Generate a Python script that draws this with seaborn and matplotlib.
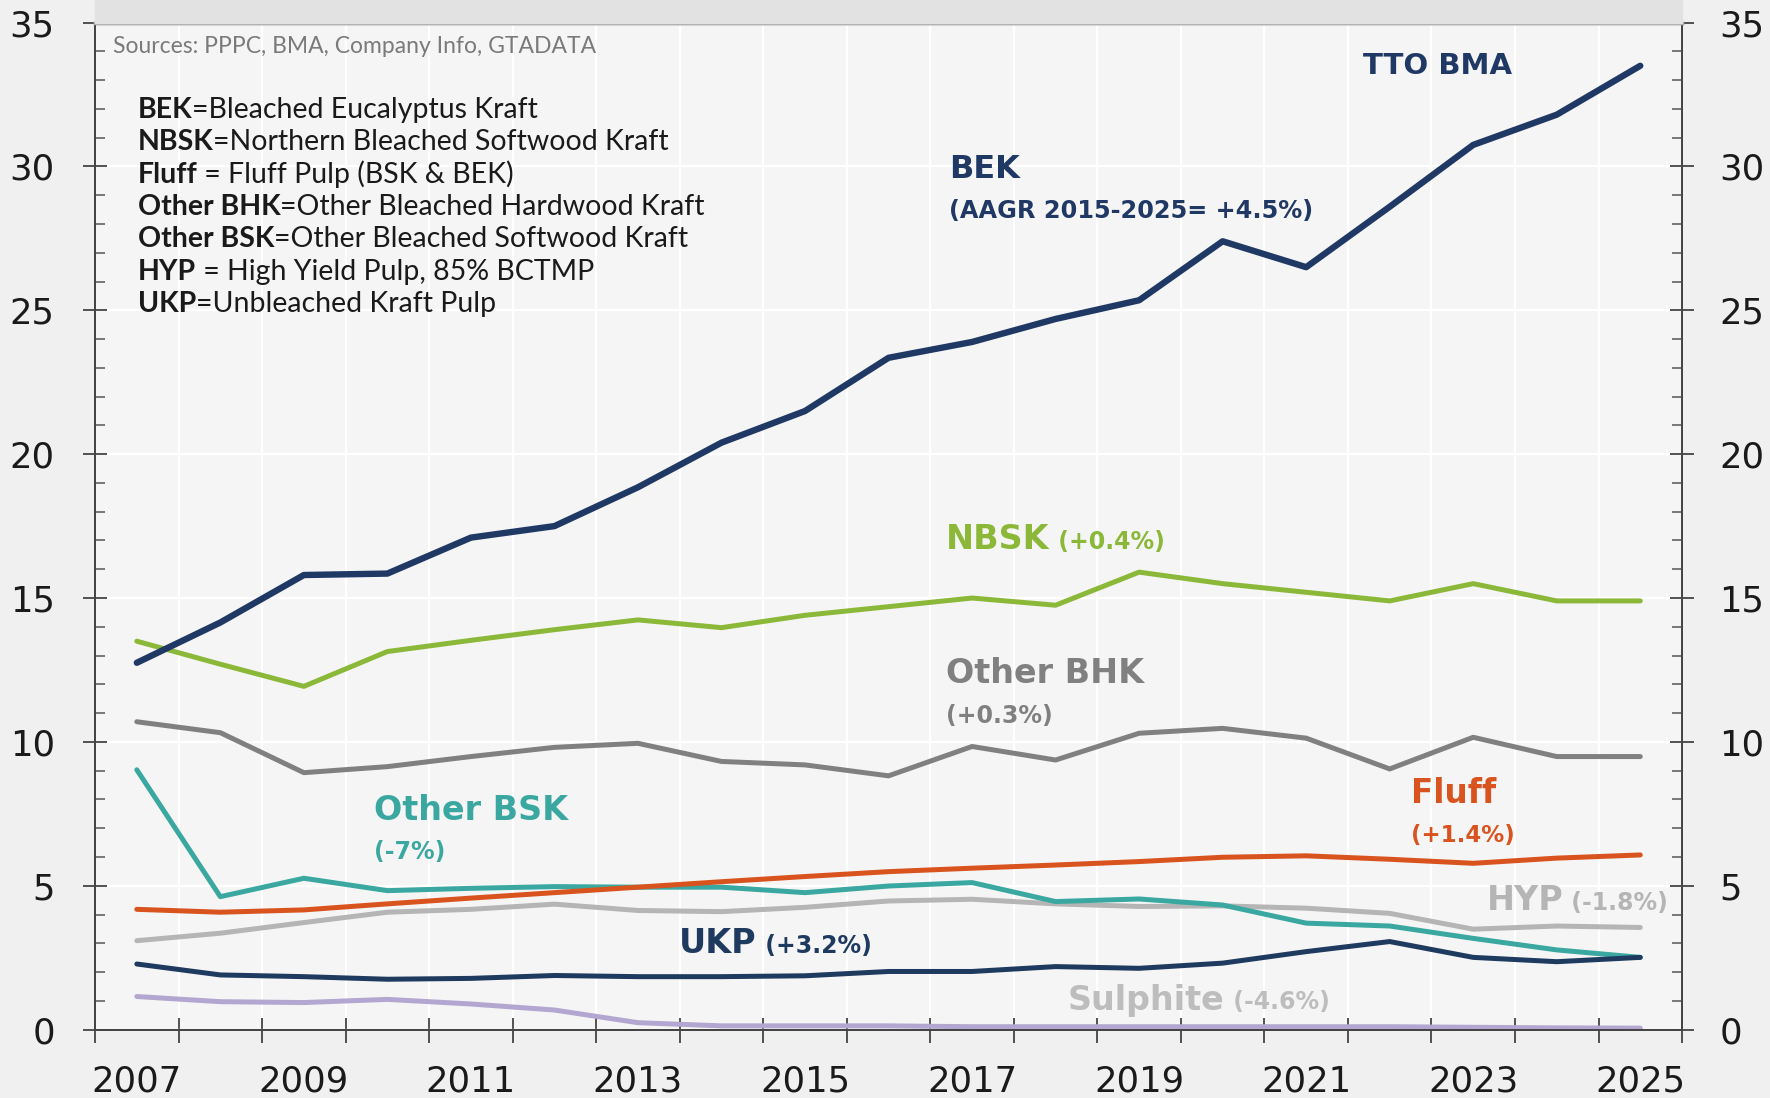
import numpy as np
import pandas as pd
import seaborn as sns
import matplotlib.pyplot as plt
from matplotlib.ticker import MultipleLocator, FixedLocator, NullFormatter
from matplotlib.patches import Rectangle

# market pulp capacity by grade, million tonnes
years = list(range(2007, 2026))
bek = [12.75, 14.15, 15.8, 15.85, 17.1, 17.5, 18.85, 20.4, 21.5, 23.35,
       23.9, 24.7, 25.35, 27.4, 26.5, 28.6, 30.75, 31.8, 33.5]
nbsk = [13.5, 12.7, 11.93, 13.14, 13.53, 13.9, 14.24, 13.97, 14.4, 14.7,
        15.0, 14.75, 15.9, 15.5, 15.2, 14.9, 15.5, 14.9, 14.9]
other_bhk = [10.7, 10.32, 8.93, 9.14, 9.49, 9.81, 9.95, 9.32, 9.2, 8.82,
             9.84, 9.37, 10.3, 10.47, 10.13, 9.06, 10.16, 9.49, 9.49]
other_bsk = [9.03, 4.62, 5.26, 4.83, 4.91, 4.97, 4.95, 4.95, 4.76, 4.99,
             5.11, 4.45, 4.54, 4.33, 3.7, 3.6, 3.17, 2.77, 2.51]
fluff = [4.18, 4.08, 4.16, 4.37, 4.57, 4.76, 4.95, 5.14, 5.32, 5.49,
         5.61, 5.72, 5.84, 5.99, 6.04, 5.92, 5.78, 5.96, 6.07]
hyp = [3.09, 3.35, 3.72, 4.08, 4.18, 4.36, 4.14, 4.1, 4.25, 4.47,
       4.53, 4.37, 4.28, 4.3, 4.22, 4.04, 3.49, 3.6, 3.55]
ukp = [2.28, 1.9, 1.84, 1.75, 1.78, 1.88, 1.84, 1.84, 1.87, 2.02,
       2.02, 2.19, 2.13, 2.31, 2.71, 3.06, 2.51, 2.36, 2.51]
sulphite = [1.15, 0.97, 0.94, 1.05, 0.89, 0.68, 0.24, 0.13, 0.13, 0.13,
            0.1, 0.1, 0.1, 0.1, 0.1, 0.1, 0.08, 0.06, 0.05]

grades = ["Sulphite", "HYP", "Other BSK", "Fluff", "UKP", "Other BHK", "NBSK", "BEK"]
colors = {"BEK": "#1f3864", "NBSK": "#8cb83a", "Other BHK": "#808080",
          "Other BSK": "#3aa8a0", "Fluff": "#d9531e", "HYP": "#b5b5b5",
          "UKP": "#1f3a5f", "Sulphite": "#b3a6d0"}
widths = {g: 3.6 for g in grades}
widths["BEK"] = 4.6

def_terms = ["BEK", "NBSK", "Fluff", "Other BHK", "Other BSK", "HYP", "UKP"]
def_texts = ["=Bleached Eucalyptus Kraft", "=Northern Bleached Softwood Kraft",
             " = Fluff Pulp (BSK & BEK)", "=Other Bleached Hardwood Kraft",
             "=Other Bleached Softwood Kraft", " = High Yield Pulp, 85% BCTMP",
             "=Unbleached Kraft Pulp"]

df = pd.DataFrame({"year": years, "BEK": bek, "NBSK": nbsk, "Other BHK": other_bhk,
                   "Other BSK": other_bsk, "Fluff": fluff, "HYP": hyp,
                   "UKP": ukp, "Sulphite": sulphite})
df = df.melt(id_vars="year", var_name="grade", value_name="mt")

sns.set_theme(style="white")
plt.rcParams["font.family"] = ["Lato", "DejaVu Sans"]

fig = plt.figure(figsize=(17.7, 10.98), dpi=100, facecolor="#f0f0f0")
ax = fig.add_axes([0.0537, 0.0623, 0.8966, 0.9171])
ax.set_facecolor("#f5f5f5")
fig.patches.append(Rectangle((0.0537, 0.9794), 0.8966, 0.03, transform=fig.transFigure,
                             color="#e2e2e2", zorder=0))

sns.lineplot(data=df, x="year", y="mt", hue="grade", hue_order=grades, palette=colors,
             size="grade", sizes=widths, legend=False, ax=ax)
for ln in ax.lines:
    ln.set_solid_joinstyle("round")

ax.set_xlim(2006.5, 2025.5)
ax.set_ylim(0, 35)
ax.set_xlabel("")
ax.set_ylabel("")

tick_font = {"family": "DejaVu Sans", "size": 25.5, "color": "#1a1a1a"}

ax.xaxis.set_major_locator(FixedLocator(np.arange(2006.5, 2026, 1)))
ax.xaxis.set_major_formatter(NullFormatter())
ax.xaxis.set_minor_locator(FixedLocator(years[::2]))
ax.set_xticklabels([str(y) for y in years[::2]], minor=True, fontdict=tick_font)
ax.tick_params(axis="x", which="major", direction="inout", length=18, width=1.3,
               color="#444444", bottom=True)
ax.tick_params(axis="x", which="minor", length=0, pad=25, bottom=True)

ax2 = ax.twinx()
ax2.set_ylim(0, 35)
for a, p in ((ax, 20.5), (ax2, 18.5)):
    a.yaxis.set_major_locator(MultipleLocator(5))
    a.yaxis.set_minor_locator(MultipleLocator(1))
    a.tick_params(axis="y", which="major", direction="inout", length=17, width=1.3,
                  color="#444444", pad=p)
    a.tick_params(axis="y", which="minor", direction="in", length=7, width=1.1,
                  color="#555555")
    for s in ("left", "right", "bottom"):
        a.spines[s].set_color("#444444")
        a.spines[s].set_linewidth(1.3)
    a.spines["top"].set_color("#a8a8a8")
    a.spines["top"].set_linewidth(2.5)
ax.tick_params(axis="y", which="both", left=True, right=False)
ax2.tick_params(axis="y", which="both", left=False, right=True)
for lab in ax.get_yticklabels() + ax2.get_yticklabels():
    lab.set_fontfamily("DejaVu Sans")
    lab.set_fontsize(25.5)
    lab.set_color("#1a1a1a")

ax.grid(True, which="major", color="white", linewidth=1.6)
ax.set_axisbelow(True)

# sources + definitions
ax.text(2006.72, 34.17, "Sources: PPPC, BMA, Company Info, GTADATA", fontsize=16.5,
        color="#7a7a7a", va="center", ha="left")
for i, (term, txt) in enumerate(zip(def_terms, def_texts)):
    t = ax.text(2007.01, 31.97 - i * 1.126, term, fontsize=20.5, fontweight="bold",
                color="#1a1a1a", va="center", ha="left")
    ax.annotate(txt, xy=(1, 0), xycoords=t, va="bottom", ha="left", fontsize=20.5,
                color="#1a1a1a")

ax.text(2022.57, 33.5, "TTO BMA", fontsize=21, fontweight="bold", color="#1f3864",
        family="DejaVu Sans", ha="center", va="center")


def label(x, y, big, small, color, size=24, small_size=17, below=False):
    t = ax.text(x, y, big, fontsize=size, fontweight="bold", color=color,
                family="DejaVu Sans", ha="left", va="center")
    if below:
        ax.text(x, y - 1.45, small, fontsize=small_size, fontweight="bold",
                color=color, family="DejaVu Sans", ha="left", va="center")
    else:
        ax.annotate(" " + small, xy=(1, 0.22), xycoords=t, fontsize=small_size,
                    fontweight="bold", color=color, family="DejaVu Sans",
                    ha="left", va="baseline")


label(2016.72, 29.9, "BEK", "(AAGR 2015-2025= +4.5%)", colors["BEK"], size=23,
      small_size=17.3, below=True)
label(2016.69, 17.03, "NBSK", "(+0.4%)", colors["NBSK"])
label(2016.69, 12.36, "Other BHK", "(+0.3%)", colors["Other BHK"], below=True)
label(2009.84, 7.61, "Other BSK", "(-7%)", colors["Other BSK"], below=True)
label(2022.26, 8.2, "Fluff", "(+1.4%)", colors["Fluff"], size=23.5, small_size=16.5,
      below=True)
label(2023.16, 4.47, "HYP", "(-1.8%)", colors["HYP"])
label(2013.49, 2.98, "UKP", "(+3.2%)", colors["UKP"])
label(2018.15, 1.02, "Sulphite", "(-4.6%)", "#bdbdbd")

fig.savefig("out.png", dpi=100, facecolor=fig.get_facecolor())
